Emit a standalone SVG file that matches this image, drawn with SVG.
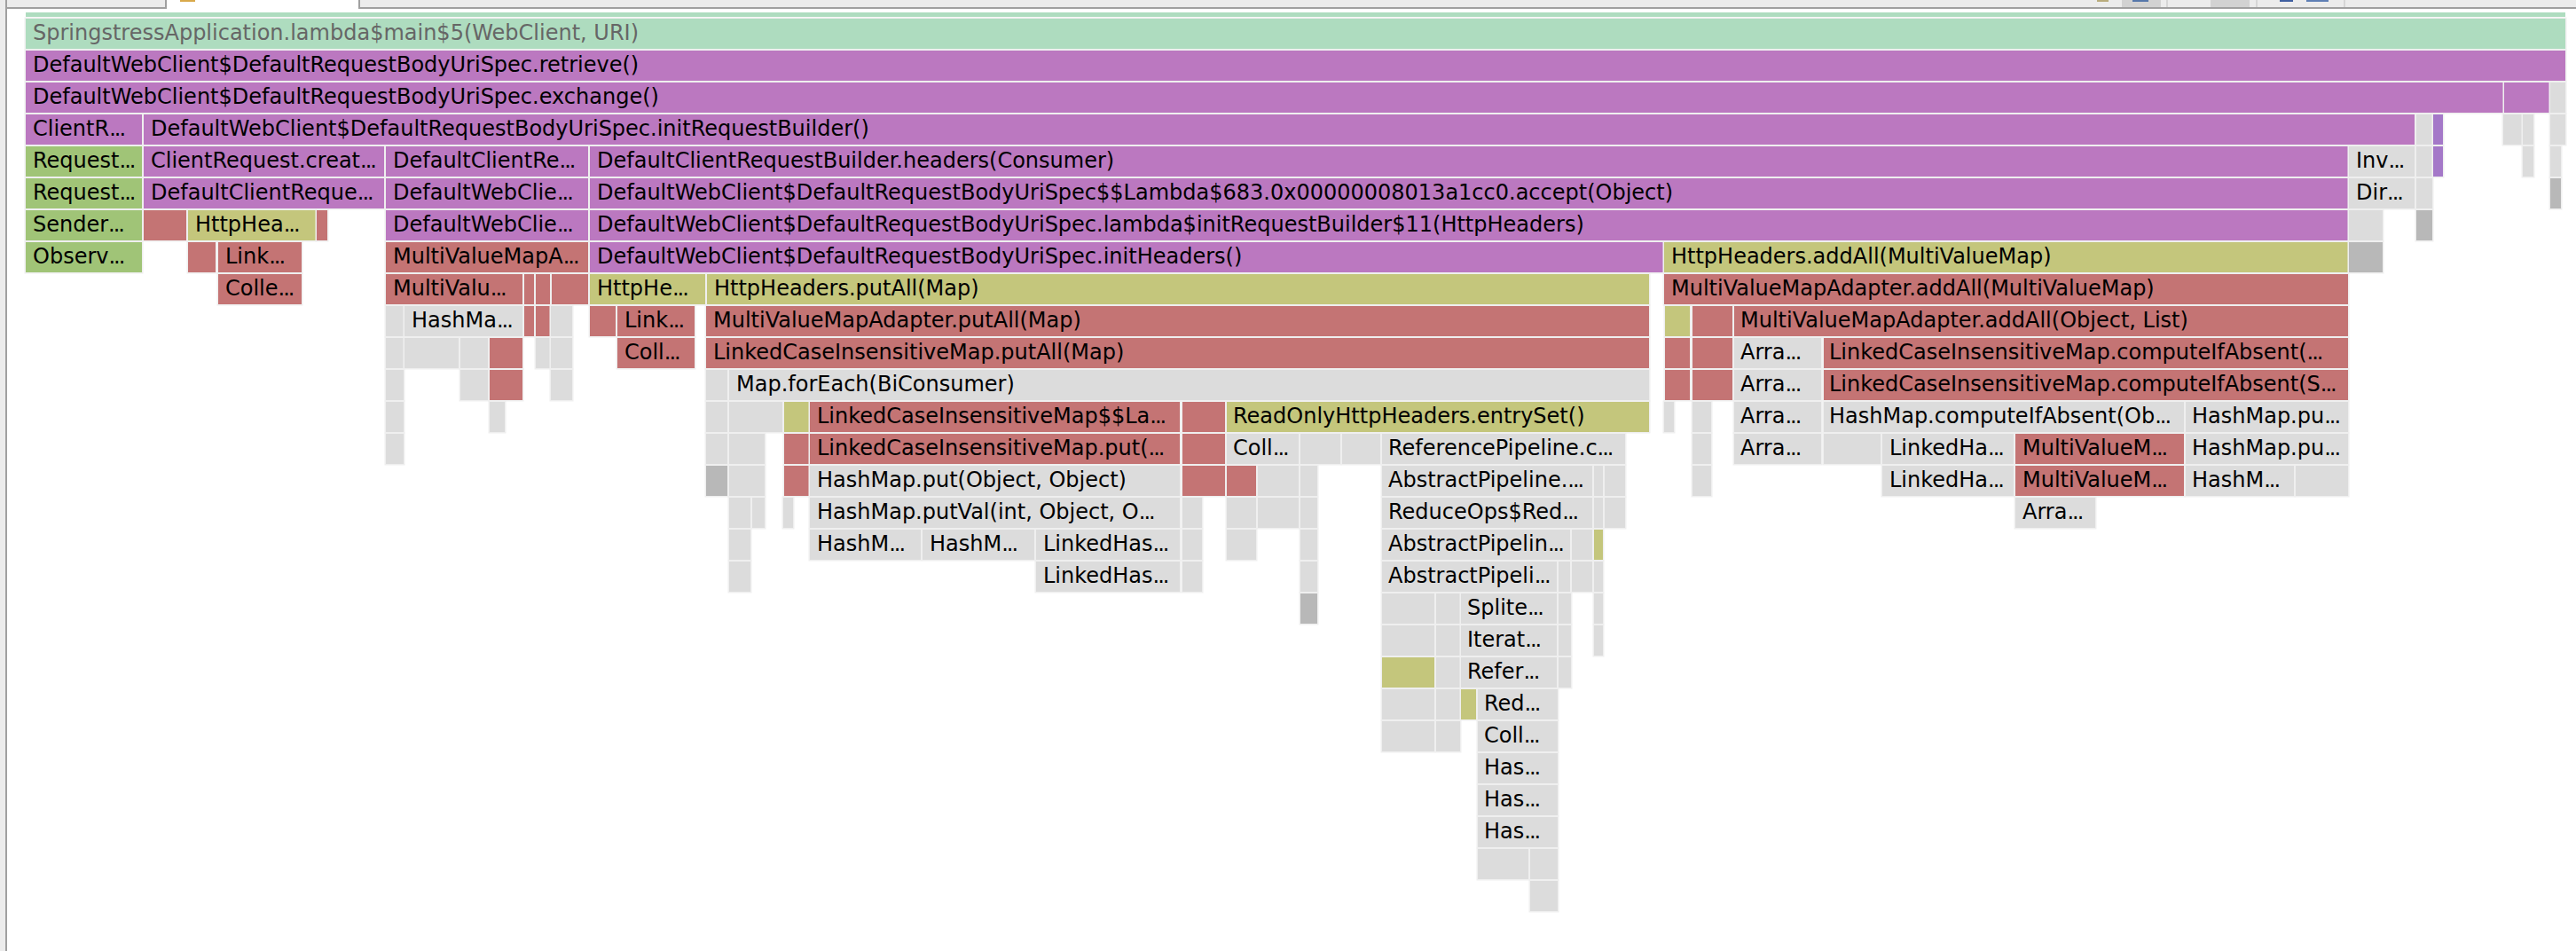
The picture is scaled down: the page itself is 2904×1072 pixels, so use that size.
<svg xmlns="http://www.w3.org/2000/svg" width="2904" height="1072" viewBox="0 0 2904 1072">
<style>
rect.f{paint-order:stroke;stroke:#efefef;stroke-width:3;height:34px}
text{font-family:"DejaVu Sans","Liberation Sans",sans-serif;font-size:24px;fill:#000}
tspan.x{letter-spacing:-2px}
.m{fill:#aedcbf}.p{fill:#bb78c0}.g{fill:#a0c477}.r{fill:#c47474}.o{fill:#c4c67c}.e{fill:#dcdcdc}.d{fill:#b8b8b8}.v{fill:#a478c8}
.ui{fill:#ececec}.ln{fill:#a0a0a0}
</style>
<rect width="2904" height="1072" fill="#ffffff"/>
<g id="chrome">
<rect class="ui" x="0" y="0" width="6" height="1072"/>
<rect class="ln" x="6" y="10" width="2" height="1062"/>
<rect class="ui" x="8" y="0" width="178" height="8"/>
<rect class="ln" x="6" y="0" width="2" height="10"/>
<rect class="ln" x="8" y="8" width="178" height="2"/>
<rect class="ln" x="186" y="0" width="2" height="10"/>
<rect class="ln" x="404" y="0" width="2" height="10"/>
<rect class="ui" x="406" y="0" width="2498" height="8"/>
<rect class="ln" x="406" y="8" width="2498" height="2"/>
<rect x="203" y="0" width="17" height="2" fill="#d9a94a"/>
<rect x="2364" y="0" width="13" height="2" fill="#b9ac7c"/>
<rect x="2392" y="0" width="44" height="8" fill="#d2d2d2"/>
<rect x="2404" y="0" width="18" height="2" fill="#5577aa"/>
<rect x="2442" y="0" width="2" height="8" fill="#d6d6d6"/>
<rect x="2492" y="0" width="44" height="8" fill="#d2d2d2"/>
<rect x="2543" y="0" width="2" height="8" fill="#d6d6d6"/>
<rect x="2570" y="0" width="15" height="2" fill="#3f5fa0"/>
<rect x="2600" y="0" width="25" height="2" fill="#5f7fb5"/>
<rect x="2642" y="0" width="2" height="8" fill="#d6d6d6"/>
</g>
<g id="frames">
<rect class="m" x="29" y="14" width="2863" height="5"/>
<g id="row0" transform="translate(0,21)"><rect class="f m" x="29" y="0" width="2863" height="34"/><text x="37" y="24" style="fill:#666">SpringstressApplication.lambda$main$5(WebClient, URI)</text></g>
<g id="row1" transform="translate(0,57)"><rect class="f p" x="29" y="0" width="2863" height="34"/><text x="37" y="24">DefaultWebClient$DefaultRequestBodyUriSpec.retrieve()</text></g>
<g id="row2" transform="translate(0,93)"><rect class="f p" x="29" y="0" width="2793" height="34"/><text x="37" y="24">DefaultWebClient$DefaultRequestBodyUriSpec.exchange()</text>
<rect class="f p" x="2823" y="0" width="51" height="34"/><rect class="f e" x="2875" y="0" width="17" height="34"/></g>
<g id="row3" transform="translate(0,129)"><rect class="f p" x="29" y="0" width="131" height="34"/><text x="37" y="24">ClientR<tspan class="x">...</tspan></text>
<rect class="f p" x="162" y="0" width="2560" height="34"/><text x="170" y="24">DefaultWebClient$DefaultRequestBodyUriSpec.initRequestBuilder()</text>
<rect class="f e" x="2724" y="0" width="18" height="34"/><rect class="f v" x="2743" y="0" width="11" height="34"/><rect class="f e" x="2822" y="0" width="21" height="34"/><rect class="f e" x="2844" y="0" width="12" height="34"/><rect class="f e" x="2875" y="0" width="17" height="34"/></g>
<g id="row4" transform="translate(0,165)"><rect class="f g" x="29" y="0" width="131" height="34"/><text x="37" y="24">Request<tspan class="x">...</tspan></text>
<rect class="f p" x="162" y="0" width="271" height="34"/><text x="170" y="24">ClientRequest.creat<tspan class="x">...</tspan></text>
<rect class="f p" x="435" y="0" width="228" height="34"/><text x="443" y="24">DefaultClientRe<tspan class="x">...</tspan></text>
<rect class="f p" x="665" y="0" width="1982" height="34"/><text x="673" y="24">DefaultClientRequestBuilder.headers(Consumer)</text>
<rect class="f e" x="2648" y="0" width="74" height="34"/><text x="2656" y="24">Inv<tspan class="x">...</tspan></text>
<rect class="f e" x="2724" y="0" width="18" height="34"/><rect class="f v" x="2743" y="0" width="11" height="34"/><rect class="f e" x="2844" y="0" width="12" height="34"/><rect class="f e" x="2875" y="0" width="12" height="34"/></g>
<g id="row5" transform="translate(0,201)"><rect class="f g" x="29" y="0" width="131" height="34"/><text x="37" y="24">Request<tspan class="x">...</tspan></text>
<rect class="f p" x="162" y="0" width="271" height="34"/><text x="170" y="24">DefaultClientReque<tspan class="x">...</tspan></text>
<rect class="f p" x="435" y="0" width="228" height="34"/><text x="443" y="24">DefaultWebClie<tspan class="x">...</tspan></text>
<rect class="f p" x="665" y="0" width="1982" height="34"/><text x="673" y="24">DefaultWebClient$DefaultRequestBodyUriSpec$$Lambda$683.0x00000008013a1cc0.accept(Object)</text>
<rect class="f e" x="2648" y="0" width="74" height="34"/><text x="2656" y="24">Dir<tspan class="x">...</tspan></text>
<rect class="f e" x="2724" y="0" width="18" height="34"/><rect class="f d" x="2875" y="0" width="12" height="34"/></g>
<g id="row6" transform="translate(0,237)"><rect class="f g" x="29" y="0" width="131" height="34"/><text x="37" y="24">Sender<tspan class="x">...</tspan></text>
<rect class="f r" x="162" y="0" width="48" height="34"/>
<rect class="f o" x="212" y="0" width="144" height="34"/><text x="220" y="24">HttpHea<tspan class="x">...</tspan></text>
<rect class="f r" x="357" y="0" width="12" height="34"/>
<rect class="f p" x="435" y="0" width="228" height="34"/><text x="443" y="24">DefaultWebClie<tspan class="x">...</tspan></text>
<rect class="f p" x="665" y="0" width="1982" height="34"/><text x="673" y="24">DefaultWebClient$DefaultRequestBodyUriSpec.lambda$initRequestBuilder$11(HttpHeaders)</text>
<rect class="f e" x="2648" y="0" width="38" height="34"/><rect class="f d" x="2724" y="0" width="18" height="34"/></g>
<g id="row7" transform="translate(0,273)"><rect class="f g" x="29" y="0" width="131" height="34"/><text x="37" y="24">Observ<tspan class="x">...</tspan></text>
<rect class="f r" x="212" y="0" width="31" height="34"/>
<rect class="f r" x="246" y="0" width="94" height="34"/><text x="254" y="24">Link<tspan class="x">...</tspan></text>
<rect class="f r" x="435" y="0" width="228" height="34"/><text x="443" y="24">MultiValueMapA<tspan class="x">...</tspan></text>
<rect class="f p" x="665" y="0" width="1210" height="34"/><text x="673" y="24">DefaultWebClient$DefaultRequestBodyUriSpec.initHeaders()</text>
<rect class="f o" x="1876" y="0" width="771" height="34"/><text x="1884" y="24">HttpHeaders.addAll(MultiValueMap)</text>
<rect class="f d" x="2648" y="0" width="38" height="34"/></g>
<g id="row8" transform="translate(0,309)"><rect class="f r" x="246" y="0" width="94" height="34"/><text x="254" y="24">Colle<tspan class="x">...</tspan></text>
<rect class="f r" x="435" y="0" width="154" height="34"/><text x="443" y="24">MultiValu<tspan class="x">...</tspan></text>
<rect class="f r" x="591" y="0" width="11" height="34"/><rect class="f r" x="604" y="0" width="16" height="34"/><rect class="f r" x="622" y="0" width="41" height="34"/>
<rect class="f o" x="665" y="0" width="130" height="34"/><text x="673" y="24">HttpHe<tspan class="x">...</tspan></text>
<rect class="f o" x="797" y="0" width="1062" height="34"/><text x="805" y="24">HttpHeaders.putAll(Map)</text>
<rect class="f r" x="1876" y="0" width="771" height="34"/><text x="1884" y="24">MultiValueMapAdapter.addAll(MultiValueMap)</text></g>
<g id="row9" transform="translate(0,345)"><rect class="f e" x="435" y="0" width="20" height="34"/>
<rect class="f e" x="456" y="0" width="133" height="34"/><text x="464" y="24">HashMa<tspan class="x">...</tspan></text>
<rect class="f r" x="591" y="0" width="11" height="34"/><rect class="f r" x="604" y="0" width="16" height="34"/><rect class="f e" x="621" y="0" width="24" height="34"/>
<rect class="f r" x="665" y="0" width="29" height="34"/>
<rect class="f r" x="696" y="0" width="87" height="34"/><text x="704" y="24">Link<tspan class="x">...</tspan></text>
<rect class="f r" x="796" y="0" width="1063" height="34"/><text x="804" y="24">MultiValueMapAdapter.putAll(Map)</text>
<rect class="f o" x="1877" y="0" width="28" height="34"/><rect class="f r" x="1908" y="0" width="45" height="34"/>
<rect class="f r" x="1955" y="0" width="692" height="34"/><text x="1962" y="24">MultiValueMapAdapter.addAll(Object, List)</text></g>
<g id="row10" transform="translate(0,381)"><rect class="f e" x="435" y="0" width="20" height="34"/><rect class="f e" x="456" y="0" width="61" height="34"/><rect class="f e" x="519" y="0" width="31" height="34"/><rect class="f r" x="552" y="0" width="37" height="34"/><rect class="f e" x="604" y="0" width="16" height="34"/><rect class="f e" x="621" y="0" width="24" height="34"/>
<rect class="f r" x="696" y="0" width="87" height="34"/><text x="704" y="24">Coll<tspan class="x">...</tspan></text>
<rect class="f r" x="796" y="0" width="1063" height="34"/><text x="804" y="24">LinkedCaseInsensitiveMap.putAll(Map)</text>
<rect class="f r" x="1877" y="0" width="28" height="34"/><rect class="f r" x="1908" y="0" width="45" height="34"/>
<rect class="f e" x="1955" y="0" width="98" height="34"/><text x="1962" y="24">Arra<tspan class="x">...</tspan></text>
<rect class="f r" x="2056" y="0" width="591" height="34"/><text x="2062" y="24">LinkedCaseInsensitiveMap.computeIfAbsent(<tspan class="x">...</tspan></text></g>
<g id="row11" transform="translate(0,417)"><rect class="f e" x="435" y="0" width="20" height="34"/><rect class="f e" x="519" y="0" width="31" height="34"/><rect class="f r" x="552" y="0" width="37" height="34"/><rect class="f e" x="621" y="0" width="24" height="34"/>
<rect class="f e" x="796" y="0" width="24" height="34"/>
<rect class="f e" x="822" y="0" width="1037" height="34"/><text x="830" y="24">Map.forEach(BiConsumer)</text>
<rect class="f r" x="1877" y="0" width="28" height="34"/><rect class="f r" x="1908" y="0" width="45" height="34"/>
<rect class="f e" x="1955" y="0" width="98" height="34"/><text x="1962" y="24">Arra<tspan class="x">...</tspan></text>
<rect class="f r" x="2056" y="0" width="591" height="34"/><text x="2062" y="24">LinkedCaseInsensitiveMap.computeIfAbsent(S<tspan class="x">...</tspan></text></g>
<g id="row12" transform="translate(0,453)"><rect class="f e" x="435" y="0" width="20" height="34"/><rect class="f e" x="552" y="0" width="17" height="34"/><rect class="f e" x="796" y="0" width="24" height="34"/><rect class="f e" x="822" y="0" width="60" height="34"/>
<rect class="f o" x="884" y="0" width="28" height="34"/>
<rect class="f r" x="913" y="0" width="417" height="34"/><text x="921" y="24">LinkedCaseInsensitiveMap$$La<tspan class="x">...</tspan></text>
<rect class="f r" x="1333" y="0" width="48" height="34"/>
<rect class="f o" x="1383" y="0" width="476" height="34"/><text x="1390" y="24">ReadOnlyHttpHeaders.entrySet()</text>
<rect class="f e" x="1876" y="0" width="11" height="34"/><rect class="f e" x="1908" y="0" width="21" height="34"/>
<rect class="f e" x="1955" y="0" width="98" height="34"/><text x="1962" y="24">Arra<tspan class="x">...</tspan></text>
<rect class="f e" x="2056" y="0" width="406" height="34"/><text x="2062" y="24">HashMap.computeIfAbsent(Ob<tspan class="x">...</tspan></text>
<rect class="f e" x="2464" y="0" width="183" height="34"/><text x="2471" y="24">HashMap.pu<tspan class="x">...</tspan></text></g>
<g id="row13" transform="translate(0,489)"><rect class="f e" x="435" y="0" width="20" height="34"/><rect class="f e" x="796" y="0" width="24" height="34"/><rect class="f e" x="822" y="0" width="40" height="34"/>
<rect class="f r" x="884" y="0" width="28" height="34"/>
<rect class="f r" x="913" y="0" width="417" height="34"/><text x="921" y="24">LinkedCaseInsensitiveMap.put(<tspan class="x">...</tspan></text>
<rect class="f r" x="1333" y="0" width="48" height="34"/>
<rect class="f e" x="1383" y="0" width="81" height="34"/><text x="1390" y="24">Coll<tspan class="x">...</tspan></text>
<rect class="f e" x="1466" y="0" width="45" height="34"/><rect class="f e" x="1513" y="0" width="43" height="34"/>
<rect class="f e" x="1558" y="0" width="274" height="34"/><text x="1565" y="24">ReferencePipeline.c<tspan class="x">...</tspan></text>
<rect class="f e" x="1908" y="0" width="21" height="34"/>
<rect class="f e" x="1955" y="0" width="98" height="34"/><text x="1962" y="24">Arra<tspan class="x">...</tspan></text>
<rect class="f e" x="2056" y="0" width="64" height="34"/>
<rect class="f e" x="2122" y="0" width="148" height="34"/><text x="2130" y="24">LinkedHa<tspan class="x">...</tspan></text>
<rect class="f r" x="2272" y="0" width="190" height="34"/><text x="2280" y="24">MultiValueM<tspan class="x">...</tspan></text>
<rect class="f e" x="2464" y="0" width="183" height="34"/><text x="2471" y="24">HashMap.pu<tspan class="x">...</tspan></text></g>
<g id="row14" transform="translate(0,525)"><rect class="f d" x="796" y="0" width="24" height="34"/><rect class="f e" x="822" y="0" width="40" height="34"/>
<rect class="f r" x="884" y="0" width="28" height="34"/>
<rect class="f e" x="913" y="0" width="417" height="34"/><text x="921" y="24">HashMap.put(Object, Object)</text>
<rect class="f r" x="1333" y="0" width="48" height="34"/><rect class="f r" x="1383" y="0" width="33" height="34"/><rect class="f e" x="1418" y="0" width="46" height="34"/><rect class="f e" x="1466" y="0" width="19" height="34"/>
<rect class="f e" x="1558" y="0" width="237" height="34"/><text x="1565" y="24">AbstractPipeline.<tspan class="x">...</tspan></text>
<rect class="f e" x="1797" y="0" width="10" height="34"/><rect class="f e" x="1809" y="0" width="23" height="34"/><rect class="f e" x="1908" y="0" width="21" height="34"/>
<rect class="f e" x="2122" y="0" width="148" height="34"/><text x="2130" y="24">LinkedHa<tspan class="x">...</tspan></text>
<rect class="f r" x="2272" y="0" width="190" height="34"/><text x="2280" y="24">MultiValueM<tspan class="x">...</tspan></text>
<rect class="f e" x="2464" y="0" width="122" height="34"/><text x="2471" y="24">HashM<tspan class="x">...</tspan></text>
<rect class="f e" x="2588" y="0" width="59" height="34"/></g>
<g id="row15" transform="translate(0,561)"><rect class="f e" x="822" y="0" width="24" height="34"/><rect class="f e" x="848" y="0" width="14" height="34"/><rect class="f e" x="883" y="0" width="11" height="34"/>
<rect class="f e" x="913" y="0" width="417" height="34"/><text x="921" y="24">HashMap.putVal(int, Object, O<tspan class="x">...</tspan></text>
<rect class="f e" x="1333" y="0" width="22" height="34"/><rect class="f e" x="1383" y="0" width="33" height="34"/><rect class="f e" x="1418" y="0" width="46" height="34"/><rect class="f e" x="1466" y="0" width="19" height="34"/>
<rect class="f e" x="1558" y="0" width="237" height="34"/><text x="1565" y="24">ReduceOps$Red<tspan class="x">...</tspan></text>
<rect class="f e" x="1797" y="0" width="10" height="34"/><rect class="f e" x="1809" y="0" width="23" height="34"/>
<rect class="f e" x="2272" y="0" width="90" height="34"/><text x="2280" y="24">Arra<tspan class="x">...</tspan></text></g>
<g id="row16" transform="translate(0,597)"><rect class="f e" x="822" y="0" width="24" height="34"/>
<rect class="f e" x="913" y="0" width="125" height="34"/><text x="921" y="24">HashM<tspan class="x">...</tspan></text>
<rect class="f e" x="1040" y="0" width="126" height="34"/><text x="1048" y="24">HashM<tspan class="x">...</tspan></text>
<rect class="f e" x="1168" y="0" width="162" height="34"/><text x="1176" y="24">LinkedHas<tspan class="x">...</tspan></text>
<rect class="f e" x="1333" y="0" width="22" height="34"/><rect class="f e" x="1383" y="0" width="33" height="34"/><rect class="f e" x="1466" y="0" width="19" height="34"/>
<rect class="f e" x="1558" y="0" width="212" height="34"/><text x="1565" y="24">AbstractPipelin<tspan class="x">...</tspan></text>
<rect class="f e" x="1772" y="0" width="23" height="34"/><rect class="f o" x="1797" y="0" width="10" height="34"/></g>
<g id="row17" transform="translate(0,633)"><rect class="f e" x="822" y="0" width="24" height="34"/>
<rect class="f e" x="1168" y="0" width="162" height="34"/><text x="1176" y="24">LinkedHas<tspan class="x">...</tspan></text>
<rect class="f e" x="1333" y="0" width="22" height="34"/><rect class="f e" x="1466" y="0" width="19" height="34"/>
<rect class="f e" x="1558" y="0" width="197" height="34"/><text x="1565" y="24">AbstractPipeli<tspan class="x">...</tspan></text>
<rect class="f e" x="1757" y="0" width="13" height="34"/><rect class="f e" x="1772" y="0" width="23" height="34"/><rect class="f e" x="1797" y="0" width="10" height="34"/></g>
<g id="row18" transform="translate(0,669)"><rect class="f d" x="1466" y="0" width="19" height="34"/><rect class="f e" x="1558" y="0" width="59" height="34"/><rect class="f e" x="1619" y="0" width="27" height="34"/>
<rect class="f e" x="1647" y="0" width="108" height="34"/><text x="1654" y="24">Splite<tspan class="x">...</tspan></text>
<rect class="f e" x="1757" y="0" width="14" height="34"/><rect class="f e" x="1797" y="0" width="10" height="34"/></g>
<g id="row19" transform="translate(0,705)"><rect class="f e" x="1558" y="0" width="59" height="34"/><rect class="f e" x="1619" y="0" width="27" height="34"/>
<rect class="f e" x="1647" y="0" width="108" height="34"/><text x="1654" y="24">Iterat<tspan class="x">...</tspan></text>
<rect class="f e" x="1757" y="0" width="14" height="34"/><rect class="f e" x="1797" y="0" width="10" height="34"/></g>
<g id="row20" transform="translate(0,741)"><rect class="f o" x="1558" y="0" width="59" height="34"/><rect class="f e" x="1619" y="0" width="27" height="34"/>
<rect class="f e" x="1647" y="0" width="108" height="34"/><text x="1654" y="24">Refer<tspan class="x">...</tspan></text>
<rect class="f e" x="1757" y="0" width="14" height="34"/></g>
<g id="row21" transform="translate(0,777)"><rect class="f e" x="1558" y="0" width="59" height="34"/><rect class="f e" x="1619" y="0" width="27" height="34"/><rect class="f o" x="1647" y="0" width="17" height="34"/>
<rect class="f e" x="1666" y="0" width="90" height="34"/><text x="1673" y="24">Red<tspan class="x">...</tspan></text></g>
<g id="row22" transform="translate(0,813)"><rect class="f e" x="1558" y="0" width="59" height="34"/><rect class="f e" x="1619" y="0" width="27" height="34"/>
<rect class="f e" x="1666" y="0" width="90" height="34"/><text x="1673" y="24">Coll<tspan class="x">...</tspan></text></g>
<g id="row23" transform="translate(0,849)"><rect class="f e" x="1666" y="0" width="90" height="34"/><text x="1673" y="24">Has<tspan class="x">...</tspan></text></g>
<g id="row24" transform="translate(0,885)"><rect class="f e" x="1666" y="0" width="90" height="34"/><text x="1673" y="24">Has<tspan class="x">...</tspan></text></g>
<g id="row25" transform="translate(0,921)"><rect class="f e" x="1666" y="0" width="90" height="34"/><text x="1673" y="24">Has<tspan class="x">...</tspan></text></g>
<g id="row26" transform="translate(0,957)"><rect class="f e" x="1666" y="0" width="57" height="34"/><rect class="f e" x="1725" y="0" width="31" height="34"/></g>
<g id="row27" transform="translate(0,993)"><rect class="f e" x="1725" y="0" width="31" height="34"/></g>
</g>
</svg>
